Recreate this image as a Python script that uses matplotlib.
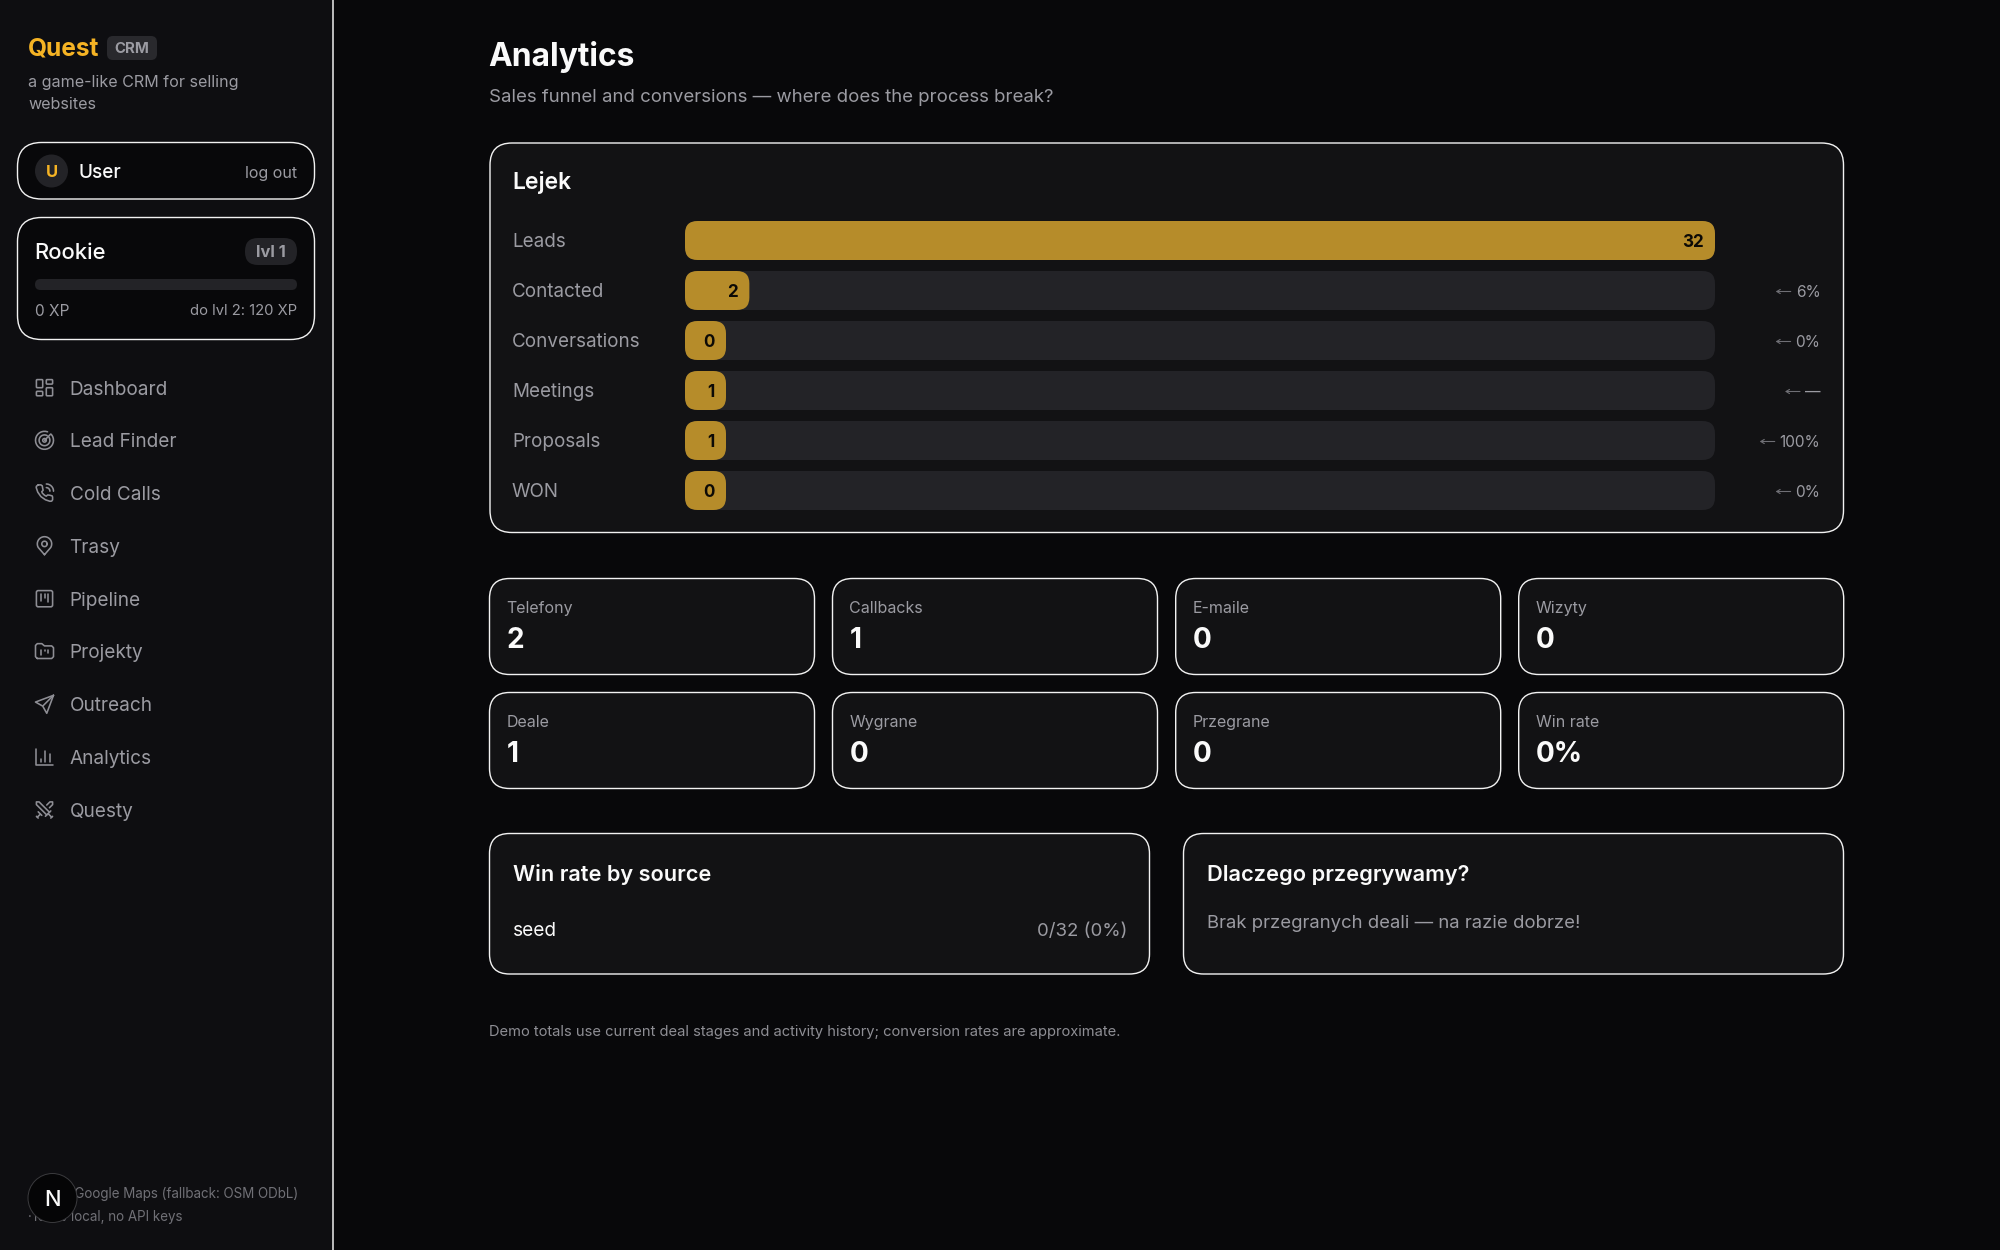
import math
import matplotlib
matplotlib.use("Agg")
import matplotlib.pyplot as plt
from matplotlib.patches import FancyBboxPatch, Circle

plt.rcParams['font.family'] = ['Inter', 'DejaVu Sans']

# ---------- data ----------
stages = ["Leads", "Contacted", "Conversations", "Meetings", "Proposals", "WON"]
stage_values = [32, 2, 0, 1, 1, 0]
stage_conv = ["", "6%", "0%", "—", "100%", "0%"]
stat_labels = ["Telefony", "Callbacks", "E-maile", "Wizyty", "Deale", "Wygrane", "Przegrane", "Win rate"]
stat_values = ["2", "1", "0", "0", "1", "0", "0", "0%"]
nav_items = ["Dashboard", "Lead Finder", "Cold Calls", "Trasy", "Pipeline", "Projekty", "Outreach", "Analytics", "Questy"]
source_name = "seed"
source_value = "0/32 (0%)"

# ---------- palette ----------
BG = "#08080a"; SIDE = "#0e0e11"; CARD = "#121214"; TRACK = "#232327"; BAR = "#b68c2a"
GOLD = "#f5b324"; WHITE = "#fafafa"; GREY = "#9b9ba2"; DIM = "#85858b"; BORDER = "#f2f2f2"

fig = plt.figure(figsize=(20, 12.5), dpi=100, facecolor=BG)
ax = fig.add_axes([0, 0, 1, 1])
ax.set_xlim(0, 2000); ax.set_ylim(1250, 0); ax.axis("off")
PT = 0.72

def T(x, y, s, px, color=GREY, weight="normal", ha="left", z=5, a=ax):
    return a.text(x, y + 0.36 * px, s, fontsize=px * PT, color=color, fontweight=weight,
                  ha=ha, va="baseline", zorder=z)

def box(x0, y0, x1, y1, r, fc, ec="none", lw=1.4, z=2):
    p = FancyBboxPatch((x0, y0), x1 - x0, y1 - y0, boxstyle=f"round,pad=0,rounding_size={r}",
                       fc=fc, ec=ec, lw=lw * PT, zorder=z)
    ax.add_patch(p)
    return p

# sidebar
ax.fill_between([0, 332.5], 0, 1250, color=SIDE, lw=0, zorder=0)
ax.plot([333, 333], [0, 1250], color=BORDER, lw=1.5 * PT, zorder=1)

T(28, 47, "Quest", 24.5, GOLD, "bold")
box(107, 36, 157, 60, 6, "#29292d")
T(132, 48, "CRM", 15, GREY, "bold", "center")
T(28, 81, "a game-like CRM for selling", 16.1, GREY)
T(28, 103, "websites", 16.1, GREY)

box(17.5, 142.5, 314.5, 199, 24, BG, BORDER)
ax.add_patch(Circle((51.5, 171), 16.5, fc="#232327", ec="none", zorder=3))
T(51.5, 171, "U", 16.5, GOLD, "bold", "center")
T(79, 171, "User", 19, WHITE, "medium")
T(297, 172, "log out", 16, GREY, ha="right")

box(17.5, 217.5, 314.5, 339.5, 24, BG, BORDER)
T(34, 251, "Rookie", 22, WHITE, "medium")
box(245, 238, 297, 265, 13, "#232327")
T(271, 251.5, "lvl 1", 16.5, GREY, "bold", "center")
box(35, 279, 297, 290, 5.5, "#232327")
T(35, 310, "0 XP", 15.5, GREY)
T(297, 310, "do lvl 2: 120 XP", 14.8, GREY, ha="right")

# nav icons in a 24-unit grid
ICON = "#8e8e95"
S = 0.9
def mk(cy):
    ox, oy = 44.5 - 12 * S, cy - 12 * S
    def line(*pts, closed=False):
        xs = [ox + p[0] * S for p in pts]; ys = [oy + p[1] * S for p in pts]
        if closed:
            xs.append(xs[0]); ys.append(ys[0])
        ax.plot(xs, ys, color=ICON, lw=1.6 * PT, solid_capstyle="round", solid_joinstyle="round", zorder=4)
    def rr(x, y, w, h, r):
        ax.add_patch(FancyBboxPatch((ox + x * S, oy + y * S), w * S, h * S,
                     boxstyle=f"round,pad=0,rounding_size={r*S}", fc="none", ec=ICON, lw=1.6 * PT, zorder=4))
    def arc(cx, cy_, r, a0, a1, n=24):
        pts = [(cx + r * math.cos(math.radians(a0 + (a1 - a0) * i / n)),
                cy_ - r * math.sin(math.radians(a0 + (a1 - a0) * i / n))) for i in range(n + 1)]
        return pts
    return line, rr, arc

icon_y = [387.7, 440.3, 493, 545.7, 598.7, 651.3, 704.3, 757, 810]
for name, yy in zip(nav_items, icon_y):
    T(69.5, yy, name, 19, GREY)
    line, rr, arc = mk(yy)
    if name == "Dashboard":
        rr(3, 3, 7, 9, 1); rr(14, 3, 7, 5, 1); rr(14, 12, 7, 9, 1); rr(3, 16, 7, 5, 1)
    elif name == "Lead Finder":
        line(*arc(12, 12, 10, 70, 400)); line(*arc(12, 12, 6, 60, 395)); line(*arc(12, 12, 2, 0, 360)); line((12, 12), (19, 5))
    elif name == "Cold Calls":
        line((5, 3), (8, 3), (9.5, 4), (10, 7), (10.5, 9), (9, 10.5), (9.5, 12), (12, 14.5), (14, 15.5), (15.5, 14.2),
             (18, 14.5), (20.5, 15.2), (21, 16.5), (21, 19.5), (20, 21), (18, 21.2), (13, 19.5), (8, 16), (4.5, 11), (2.8, 6), (3, 4.5), closed=True)
        line(*arc(14, 10, 8, 90, 0)); line(*arc(14, 10, 4, 90, 0))
    elif name == "Trasy":
        line(*arc(12, 10, 3, 0, 360))
        line((12, 22), *arc(12, 10, 8, 210, -30), closed=True)
    elif name == "Pipeline":
        rr(3, 3, 18, 18, 2); line((8, 7), (8, 14)); line((12, 7), (12, 11)); line((16, 7), (16, 16))
    elif name == "Projekty":
        line((4, 20), (20, 20), (22, 18), (22, 8), (20, 6), (12, 6), (9, 3.5), (4, 3.5), (2, 5.5), (2, 18), closed=True)
        line((8, 10), (8, 16)); line((12, 10), (12, 12)); line((16, 10), (16, 14))
    elif name == "Outreach":
        line((22, 2), (2, 9.5), (10, 14), (14.5, 22), closed=True); line((10.5, 13.5), (22, 2))
    elif name == "Analytics":
        line((3, 3), (3, 21), (21, 21)); line((8, 17), (8, 14)); line((13, 17), (13, 5)); line((18, 17), (18, 9))
    elif name == "Questy":
        line((14.5, 17.5), (3, 6), (3, 3), (6, 3), (17.5, 14.5)); line((13, 19), (19, 13)); line((16, 16), (20, 20)); line((19, 21), (21, 19))
        line((14.5, 6.5), (18, 3), (21, 3), (21, 6), (17.5, 9.5)); line((5, 14), (9, 18)); line((7, 17), (4, 20)); line((3, 19), (5, 21))

# sidebar footer + dev badge
T(298.5, 1193, "Data: Google Maps (fallback: OSM ODbL)", 13.4, "#707076", ha="right")
T(28, 1216, "·", 13.4, "#707076")
T(182, 1216, "100% local, no API keys", 13.4, "#707076", ha="right")
ax.add_patch(Circle((52.5, 1198), 24.5, fc="#050506", ec="#3a3a3d", lw=1 * PT, zorder=6))
T(52, 1198, "N", 22, WHITE, "medium", "center", z=7)

# header
T(488.5, 55, "Analytics", 31.8, WHITE, "bold")
T(489, 95, "Sales funnel and conversions — where does the process break?", 18.6, GREY)

# funnel card
box(490, 143, 1843.5, 532.5, 22, CARD, BORDER)
T(512, 181, "Lejek", 23, WHITE, "semibold")

ROW_H = 50.0
fa = fig.add_axes([685 / 2000, 1 - (215.5 + 6 * ROW_H) / 1250, 1030 / 2000, 6 * ROW_H / 1250])
fa.set_xlim(0, max(stage_values)); fa.set_ylim(5.5, -0.5); fa.axis("off"); fa.patch.set_alpha(0)
ux = 1030.0 / max(stage_values)           # pixels per unit value
MIN_W = 41.0 / ux
PAD = 11.5 / ux
asp = ux / ROW_H
renderer = fig.canvas.get_renderer()
for i, (st, v, cv) in enumerate(zip(stages, stage_values, stage_conv)):
    cy = 240.5 + ROW_H * i
    T(512, cy, st, 18.8, GREY)
    style = f"round,pad=0,rounding_size={12.5 / ux}"
    fa.add_patch(FancyBboxPatch((0, i - 0.39), max(stage_values), 0.78, boxstyle=style, mutation_aspect=asp,
                                fc=TRACK, ec="none", clip_on=False, zorder=2))
    w = max(v, MIN_W)
    fa.add_patch(FancyBboxPatch((0, i - 0.39), w, 0.78, boxstyle=style, mutation_aspect=asp,
                                fc=BAR, ec="none", clip_on=False, zorder=3))
    fa.text(w - PAD, i + 0.36 * 17 / ROW_H, str(v), fontsize=17 * PT, fontweight="bold", color="#0c0a06",
            ha="right", va="baseline", zorder=4)
    if cv:
        t = T(1820.5, cy + 0.5, cv, 15.5, GREY, ha="right")
        bb = t.get_window_extent(renderer)
        ax.annotate("", xy=(bb.x0 - 20, cy + 1), xytext=(bb.x0 - 5, cy + 1),
                    arrowprops=dict(arrowstyle="->,head_length=0.25,head_width=0.15", color="#6f6f75", lw=1.1 * PT,
                                    shrinkA=0, shrinkB=0), zorder=5)

# stats cards
col_x = [489.5, 832.5, 1175.7, 1518.7]
row_y = [578.5, 692.5]
k = 0
for ry in row_y:
    for cx in col_x:
        box(cx, ry, cx + 325, ry + 96, 20, CARD, BORDER)
        T(cx + 17, ry + 28.5, stat_labels[k], 16, GREY)
        T(cx + 17.5, ry + 59.5, stat_values[k], 28, WHITE, "bold")
        k += 1

# bottom cards
box(489.5, 833.5, 1149.5, 974, 20, CARD, BORDER)
T(513, 873, "Win rate by source", 21.7, WHITE, "semibold")
T(513, 929.5, source_name, 19, WHITE)
T(1127, 929.5, source_value, 18.7, GREY, ha="right")
box(1183.5, 833.5, 1843.5, 974, 20, CARD, BORDER)
T(1207, 873, "Dlaczego przegrywamy?", 21.8, WHITE, "semibold")
T(1207, 921, "Brak przegranych deali — na razie dobrze!", 18.5, GREY)

T(489, 1031, "Demo totals use current deal stages and activity history; conversion rates are approximate.", 14.7, "#8e8e94")

fig.savefig("out.png", dpi=100, facecolor=BG)
